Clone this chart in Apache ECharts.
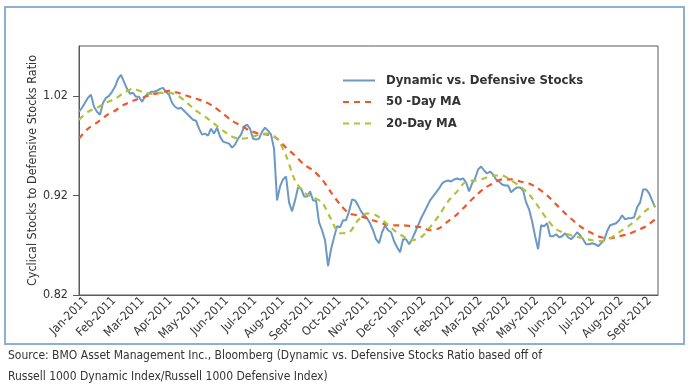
<!DOCTYPE html>
<html>
<head>
<meta charset="utf-8">
<script src="https://cdn.jsdelivr.net/npm/echarts@6/dist/echarts.min.js"></script>
<style>
html,body{margin:0;padding:0;background:#fff;}
#chart{width:690px;height:388px;}
</style>
</head>
<body>
<div id="chart"></div>
<script>
// Month labels (category ticks on the time scale, in months since Jan-2011)
const monthLabels = ['Jan-2011','Feb-2011','Mar-2011','Apr-2011','May-2011','Jun-2011','Jul-2011','Aug-2011','Sept-2011','Oct-2011','Nov-2011','Dec-2011','Jan-2012','Feb-2012','Mar-2012','Apr-2012','May-2012','Jun-2012','Jul-2012','Aug-2012','Sept-2012'];
const yTicks = [0.82, 0.92, 1.02];

// Sampling of the series along time (months since Jan-2011)
const seriesStartMonth = -0.25;
const ratioStepMonths = 0.1065;   // about every 3 trading days
const maStepMonths = 0.3195;      // moving averages read about every 9-10 trading days

// Dynamic vs. Defensive Stocks ratio
const ratio = [1.004,1.008,1.013,1.018,1.021,1.009,1.004,1.001,1.013,1.018,1.020,1.024,1.029,1.037,1.041,1.034,1.027,1.022,1.023,1.019,
1.019,1.014,1.019,1.022,1.024,1.024,1.025,1.027,1.028,1.024,1.021,1.013,1.009,1.007,1.008,1.005,1.002,0.999,0.996,0.995,
0.987,0.981,0.982,0.980,0.987,0.982,0.988,0.979,0.974,0.973,0.972,0.968,0.971,0.977,0.981,0.989,0.991,0.987,0.977,0.976,
0.977,0.984,0.988,0.985,0.981,0.967,0.915,0.929,0.936,0.939,0.913,0.904,0.915,0.928,0.927,0.919,0.919,0.924,0.915,0.915,
0.893,0.885,0.875,0.849,0.866,0.878,0.889,0.888,0.895,0.895,0.904,0.916,0.915,0.910,0.904,0.900,0.897,0.892,0.885,0.876,
0.872,0.883,0.890,0.885,0.883,0.874,0.868,0.863,0.876,0.876,0.871,0.876,0.883,0.890,0.897,0.903,0.909,0.915,0.919,0.923,
0.927,0.932,0.934,0.935,0.934,0.936,0.937,0.936,0.937,0.933,0.924,0.932,0.937,0.946,0.949,0.945,0.942,0.944,0.941,0.936,
0.934,0.931,0.930,0.930,0.923,0.926,0.928,0.928,0.925,0.913,0.906,0.894,0.879,0.866,0.890,0.889,0.892,0.879,0.879,0.881,
0.878,0.879,0.882,0.878,0.876,0.879,0.883,0.880,0.876,0.871,0.871,0.872,0.871,0.869,0.872,0.875,0.884,0.890,0.891,0.892,
0.895,0.900,0.896,0.897,0.897,0.898,0.908,0.913,0.926,0.926,0.922,0.915,0.908];

// 50-Day moving average
const ma50 = [0.977,0.987,0.993,1.000,1.005,1.011,1.015,1.018,1.021,1.023,1.025,1.023,1.020,1.017,1.014,1.009,1.002,0.995,0.990,0.985,
0.982,0.981,0.977,0.968,0.960,0.951,0.945,0.936,0.923,0.911,0.902,0.900,0.897,0.894,0.891,0.890,0.890,0.889,0.888,0.885,
0.887,0.894,0.901,0.910,0.919,0.927,0.932,0.936,0.936,0.934,0.932,0.927,0.920,0.911,0.902,0.894,0.887,0.882,0.878,0.877,
0.879,0.881,0.885,0.889,0.896];

// 20-Day moving average
const ma20 = [0.996,1.004,1.008,1.013,1.017,1.023,1.027,1.024,1.022,1.023,1.023,1.020,1.013,1.005,0.999,0.992,0.985,0.979,0.977,0.978,
0.981,0.982,0.977,0.960,0.935,0.923,0.918,0.913,0.896,0.882,0.883,0.895,0.902,0.900,0.893,0.885,0.879,0.875,0.878,0.888,
0.900,0.914,0.924,0.934,0.935,0.937,0.940,0.940,0.935,0.929,0.921,0.909,0.896,0.886,0.882,0.879,0.877,0.875,0.874,0.877,
0.883,0.889,0.896,0.905,0.910];

const FONT = "'Liberation Sans Narrow','DejaVu Sans Condensed','Open Sans',sans-serif";
const toPairs = (arr, step) => arr.map((v, i) => [seriesStartMonth + i * step, v]);

const chart = echarts.init(document.getElementById('chart'), null, {renderer: 'canvas'});
chart.setOption({
  animation: false,
  backgroundColor: '#ffffff',
  textStyle: {fontFamily: FONT},
  grid: {left: 79, top: 46, right: 32, bottom: 93, show: true, borderColor: '#5a5a5a', borderWidth: 1, backgroundColor: 'transparent'},
  legend: {
    orient: 'vertical', left: 342, top: 74, padding: 0,
    itemWidth: 32, itemHeight: 14, itemGap: 8.5,
    itemStyle: {opacity: 0, color: 'rgba(0,0,0,0)', borderWidth: 0},
    textStyle: {fontFamily: FONT, fontSize: 13, fontWeight: 'bold', color: '#333', padding: [0, 0, 0, 6]},
    data: ['Dynamic vs. Defensive Stocks', '50 -Day MA', '20-Day MA']
  },
  xAxis: {
    type: 'value', min: seriesStartMonth, max: 20.3,
    axisLine: {show: true, onZero: false, lineStyle: {color: '#5a5a5a'}},
    axisTick: {show: false},
    splitLine: {show: false},
    axisLabel: {
      customValues: monthLabels.map((_, i) => i),
      formatter: v => monthLabels[Math.round(v)] || '',
      rotate: 45, fontSize: 12, color: '#333', fontFamily: FONT, margin: 4
    }
  },
  yAxis: {
    type: 'value', min: 0.82, max: 1.07, interval: 0.1,
    name: 'Cyclical Stocks to Defensive Stocks Ratio',
    nameLocation: 'middle', nameGap: 40, nameRotate: 90, nameMoveOverlap: false,
    nameTextStyle: {fontFamily: FONT, fontSize: 12.5, color: '#333'},
    axisLine: {show: true, onZero: false, lineStyle: {color: '#5a5a5a'}},
    axisTick: {show: true, inside: false, length: 6, customValues: yTicks, lineStyle: {color: '#5a5a5a'}},
    splitLine: {show: false},
    axisLabel: {
      customValues: yTicks,
      formatter: v => v.toFixed(2), fontSize: 12.5, color: '#333', fontFamily: FONT, margin: 11
    }
  },
  series: [
    {name: 'Dynamic vs. Defensive Stocks', type: 'line', symbol: 'none', data: toPairs(ratio, ratioStepMonths),
     lineStyle: {color: '#6B98C4', width: 2}, itemStyle: {color: '#6B98C4'}, z: 2},
    {name: '50 -Day MA', type: 'line', symbol: 'none', smooth: 0.3, data: toPairs(ma50, maStepMonths),
     lineStyle: {color: '#EC5A2C', width: 2.2, type: [6, 5]}, itemStyle: {color: '#EC5A2C'}, z: 3},
    {name: '20-Day MA', type: 'line', symbol: 'none', smooth: 0.3, data: toPairs(ma20, maStepMonths),
     lineStyle: {color: '#B2C13A', width: 2.2, type: [6, 5]}, itemStyle: {color: '#B2C13A'}, z: 4}
  ],
  graphic: [
    {type: 'rect', shape: {x: 5, y: 7, width: 679, height: 337}, style: {fill: 'none', stroke: '#8EAFD5', lineWidth: 2}, silent: true, z: -1},
    {type: 'text', left: 8, top: 350, style: {text: 'Source: BMO Asset Management Inc., Bloomberg (Dynamic vs. Defensive Stocks Ratio based off of', fontFamily: FONT, fontSize: 12, fill: '#333'}},
    {type: 'text', left: 8, top: 371, style: {text: 'Russell 1000 Dynamic Index/Russell 1000 Defensive Index)', fontFamily: FONT, fontSize: 12, fill: '#333'}}
  ]
});
</script>
</body>
</html>
